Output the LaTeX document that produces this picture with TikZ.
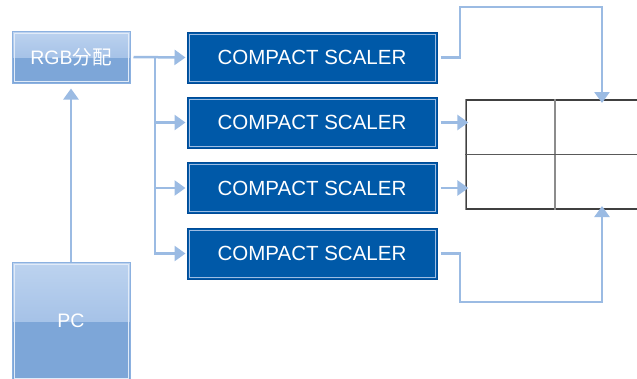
\documentclass[tikz,border=0pt]{standalone}
\usepackage{fontspec}
\setmainfont{Liberation Sans}
\newfontfamily\cjk{Noto Sans CJK JP}
\usetikzlibrary{arrows.meta}
\definecolor{scalerblue}{HTML}{0059A8}
\definecolor{scalerline}{HTML}{004A96}
\definecolor{paleline}{HTML}{9DBCE3}
\definecolor{srctop}{HTML}{BDD3EF}
\definecolor{srcmid}{HTML}{8FB2E0}
\definecolor{srcbot}{HTML}{7DA6D8}
\definecolor{srcline}{HTML}{8CB1E0}
\definecolor{flowblue}{HTML}{9BBBE3}
\tikzset{
	scaler/.style={draw=scalerline, line width=1pt, fill=scalerblue, text=white, minimum width=250pt, minimum height=51pt, inner sep=0pt, font=\fontsize{20.5}{21}\selectfont,
		path picture={\draw[paleline, line width=0.8pt] ([shift={(2pt,-2pt)}]path picture bounding box.north west) rectangle ([shift={(-2pt,2pt)}]path picture bounding box.south east);}},
	source/.style={draw=srcline, line width=1pt, fill=srcbot, text=white, minimum width=118pt, inner sep=0pt, font=\fontsize{19.5}{20}\selectfont,
		path picture={\shade[top color=srctop, bottom color=srcmid] (path picture bounding box.north west) rectangle (path picture bounding box.east);
			\draw[white!55!srctop, line width=0.8pt] ([shift={(2pt,-2pt)}]path picture bounding box.north west) rectangle ([shift={(-2pt,2pt)}]path picture bounding box.south east);}},
	flow/.style={draw=flowblue, line width=2.5pt, -{Triangle[length=11pt,width=15pt]}},
}

\begin{document}
\begin{tikzpicture}[x=1pt, y=-1pt]
			%%%%% START %%%%%
			\useasboundingbox (0,0) rectangle (637,378);
			
			\node[source, minimum height=52pt] (rgb) at (71,57) {RGB{\cjk 分配}};
			\node[source, minimum height=118pt] (pc) at (71,321) {PC};
			
			\node[scaler] (s1) at (312,57.5) {COMPACT SCALER};
			\node[scaler] (s2) at (312,122.5) {COMPACT SCALER};
			\node[scaler] (s3) at (312,188) {COMPACT SCALER};
			\node[scaler] (s4) at (312,253.5) {COMPACT SCALER};
			
			% screen wall, 2x2
			\node[draw=black!75, line width=1.2pt, minimum width=178pt, minimum height=109pt, inner sep=0pt] (wall) at (555,154.5) {};
			\draw[black!45, line width=1.2pt] (wall.north west) -- (wall.south west);
			\draw[black!45, line width=1.2pt] (wall.north) -- (wall.south);
			\draw[black!65, line width=1.2pt] (wall.west) -- (wall.east);
			
			\coordinate (split) at (155,57);
			\coordinate (jog1) at (460,7);
			\coordinate (jog4) at (460,302);
			\coordinate (in1) at (602,103);
			\coordinate (in4) at (602,206);
			
			\draw[flow, shorten >=5pt] (pc.north) -- (rgb.south);
			\draw[flow, shorten <=3pt, shorten >=1pt] (rgb.east) -- (s1.west);
			\draw[flow, shorten >=1pt] (split) |- (s2.west);
			\draw[flow, shorten >=1pt] (split) |- (s3.west);
			\draw[flow, shorten >=1pt] (split) |- (s4.west);
			
			\draw[flow, shorten <=3pt] (s1.east) -| (jog1) -| (in1);
			\draw[flow, shorten <=3pt, shorten >=-3pt] (s2.east) -- (s2.east -| wall.west);
			\draw[flow, shorten <=3pt, shorten >=-3pt] (s3.east) -- (s3.east -| wall.west);
			\draw[flow, shorten <=3pt] (s4.east) -| (jog4) -| (in4);
			
			%%%%% END %%%%%
\end{tikzpicture}
\end{document}
